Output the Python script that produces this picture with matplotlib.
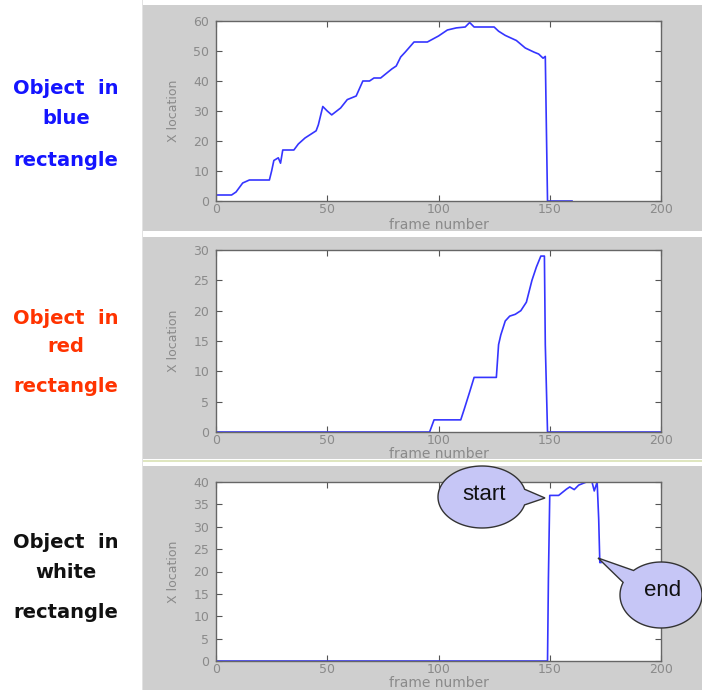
import numpy as np
import matplotlib.pyplot as plt
from matplotlib.patches import Rectangle, Polygon

# ---------------------------------------------------------------
# data (frame number, X location)
# ---------------------------------------------------------------
blue_frame = [0, 7, 9, 12, 15, 24, 25, 26, 28, 29, 30, 35, 37, 40, 45, 46, 48,
              50, 52, 56, 59, 63, 66, 69, 71, 74, 79, 81, 83, 85, 89, 95, 100,
              104, 108, 112, 114, 116, 125, 127, 130, 135, 139, 143, 145, 147,
              148, 148.5, 149, 160]
blue_x = [2, 2, 3, 6, 7, 7, 10, 13.5, 14.4, 12.6, 17, 17, 19, 21, 23.4, 25.4,
          31.5, 30, 28.7, 31, 33.8, 35, 40, 40, 41, 41, 44, 45, 48, 49.6, 53,
          53, 55, 57, 57.7, 58, 59.5, 58, 58, 56.6, 55.2, 53.5, 51, 49.6, 49,
          47.6, 48.2, 23.7, 0, 0]

red_frame = [0, 96, 98, 110, 111.6, 114, 116, 126, 127, 128, 130, 132, 134.5,
             137, 139.5, 142, 144, 146, 147.6, 148, 149, 200]
red_x = [0, 0, 2, 2, 3.8, 6.6, 9, 9, 14.4, 16, 18.3, 19.1, 19.4, 20, 21.4, 25,
         27.2, 29, 29, 14.4, 0, 0]

white_frame = [0, 149, 149.4, 150, 154, 157.5, 159, 161, 163, 166.5, 169, 170,
               171.3, 172, 172.5, 173]
white_x = [0, 0, 18.5, 37, 37, 38.4, 38.9, 38.3, 39.3, 40, 40, 38, 40, 31.7,
           22, 22]

y_limits = [60, 30, 40]
y_steps = [10, 5, 5]
x_ticks = [0, 50, 100, 150, 200]

side_labels = [["Object  in", "blue", "rectangle"],
               ["Object  in", "red", "rectangle"],
               ["Object  in", "white", "rectangle"]]
side_colors = ["#1414ff", "#ff3300", "#111111"]

# ---------------------------------------------------------------
# layout (pixel space of a 702 x 690 figure, y downwards)
# ---------------------------------------------------------------
W, H = 702, 690
GRAY = "#cfcfcf"
LINE = "#3535ff"
panels = [(5, 231), (237, 459), (466, 690)]       # gray strips
axes_px = [(21, 201), (250, 432), (482, 661)]     # axes top / bottom
xlabel_px = [225, 454, 683]
ax_left, ax_right = 216, 661
side_y = [[88, 119, 160], [318, 346, 387], [543, 573, 613]]

fig = plt.figure(figsize=(W / 100, H / 100), dpi=100)

bg = fig.add_axes([0, 0, 1, 1], zorder=0)
bg.set_xlim(0, W)
bg.set_ylim(H, 0)
bg.axis("off")

fg = fig.add_axes([0, 0, 1, 1], zorder=5)
fg.set_xlim(0, W)
fg.set_ylim(H, 0)
fg.axis("off")
fg.patch.set_alpha(0)

for (top, bot) in panels:
    bg.add_patch(Rectangle((143, top), W - 143, bot - top, color=GRAY, lw=0))
bg.add_patch(Rectangle((143, 460), W - 143, 2, color="#dfe6c0", lw=0))
bg.add_patch(Rectangle((142, 0), 1.2, H, color="#e2e2e2", lw=0))

series = [(blue_frame, blue_x), (red_frame, red_x), (white_frame, white_x)]
for i, (frames, vals) in enumerate(series):
    top, bot = axes_px[i]
    ax = fig.add_axes([ax_left / W, 1 - bot / H,
                       (ax_right - ax_left) / W, (bot - top) / H], zorder=1)
    ax.set_facecolor("white")
    ax.plot(frames, vals, color=LINE, lw=1.2)
    ax.set_xlim(0, 200)
    ax.set_ylim(0, y_limits[i])
    ax.set_xticks(x_ticks)
    ax.set_yticks(np.arange(0, y_limits[i] + 1, y_steps[i]))
    ax.tick_params(direction="in", length=4, top=True, right=True,
                   color="#555555", labelcolor="#8a8a8a", labelsize=9)
    ax.tick_params(axis="x", pad=1.5)
    ax.tick_params(axis="y", pad=5)
    for sp in ax.spines.values():
        sp.set_color("#666666")
        sp.set_linewidth(1.0)
    ax.set_xlabel("frame number", fontsize=10, color="#8a8a8a")
    ax.xaxis.label.set_va("center")
    ax.xaxis.set_label_coords(0.5, (bot - xlabel_px[i]) / (bot - top))
    ax.set_ylabel("X location", fontsize=9, color="#8a8a8a")
    ax.yaxis.set_label_coords(-0.081, 0.5)

    for txt, yy in zip(side_labels[i], side_y[i]):
        fg.text(66, yy, txt, ha="center", va="center", fontsize=14,
                fontweight="bold", color=side_colors[i])


def bubble(cx, cy, a, b, tip, base1, base2):
    t1 = np.arctan2((base1[1] - cy) / b, (base1[0] - cx) / a)
    t2 = np.arctan2((base2[1] - cy) / b, (base2[0] - cx) / a)
    d = (t2 - t1) % (2 * np.pi)
    if d > np.pi:
        t1, t2 = t2, t1
        d = 2 * np.pi - d
    t = np.linspace(t1 + d, t1 + 2 * np.pi, 120)
    pts = np.column_stack([cx + a * np.cos(t), cy + b * np.sin(t)])
    pts = np.vstack([pts, tip])
    fg.add_patch(Polygon(pts, closed=True, facecolor="#c6c6f6",
                         edgecolor="#333333", lw=1.0, clip_on=False))


bubble(482, 497, 44, 31, (545, 498), (526, 489), (525, 505))
fg.text(484, 494, "start", ha="center", va="center", fontsize=16,
        family="Liberation Sans", color="#111111")

bubble(661, 595, 41, 33, (598, 558), (633, 570), (625, 583))
fg.text(663, 591, "end", ha="center", va="center", fontsize=16,
        family="Liberation Sans", color="#111111")

fig.savefig("out.png", dpi=100)
